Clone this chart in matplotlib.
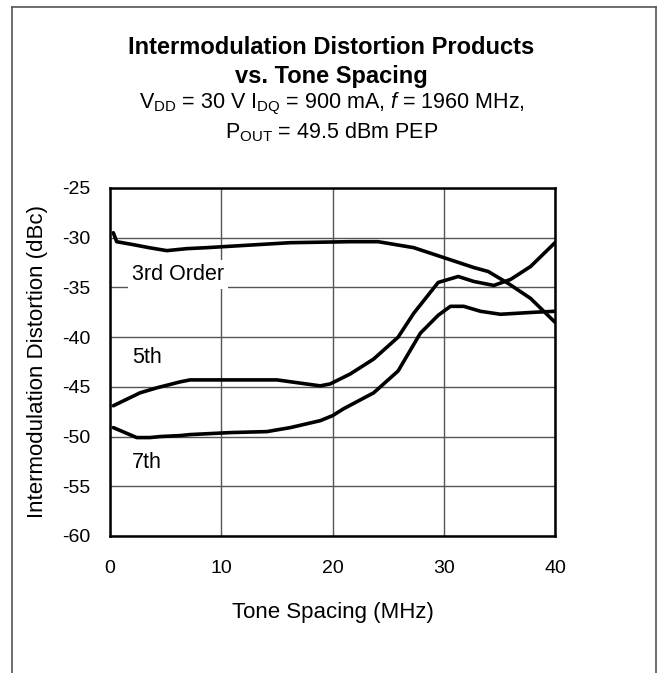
import matplotlib
matplotlib.use("Agg")
import matplotlib.pyplot as plt
from matplotlib.lines import Line2D

plt.rcParams["font.family"] = ["Liberation Sans", "DejaVu Sans"]
plt.rcParams["mathtext.fontset"] = "custom"
plt.rcParams["mathtext.rm"] = "Liberation Sans"
plt.rcParams["mathtext.it"] = "Liberation Sans:italic"
plt.rcParams["axes.unicode_minus"] = False

# ================= DATA =================
x_3rd = [0.3, 0.6, 2.1, 3.5, 5.1, 6.9, 8.7, 11.7, 16.2, 21.6, 24.1, 27.3,
         30.0, 32.7, 34.0, 35.8, 37.8, 40.0]
y_3rd = [-29.5, -30.4, -30.7, -31.0, -31.3, -31.1, -31.0, -30.8, -30.5, -30.4,
         -30.4, -31.0, -32.0, -33.0, -33.4, -34.6, -36.1, -38.5]

x_5th = [0.3, 2.7, 4.2, 6.3, 7.2, 15.0, 18.9, 19.8, 21.6, 23.7, 25.9, 27.3,
         29.5, 31.3, 32.7, 34.5, 36.0, 37.8, 40.0]
y_5th = [-46.9, -45.6, -45.1, -44.5, -44.3, -44.3, -44.9, -44.7, -43.7, -42.2,
         -40.0, -37.6, -34.5, -33.9, -34.4, -34.8, -34.2, -32.9, -30.5]

x_7th = [0.3, 2.4, 3.6, 4.5, 6.3, 7.2, 10.8, 14.1, 16.2, 18.9, 20.0, 21.0,
         23.7, 25.0, 25.9, 27.9, 29.5, 30.6, 31.8, 33.3, 35.1, 38.1, 40.0]
y_7th = [-49.1, -50.1, -50.1, -50.0, -49.9, -49.8, -49.6, -49.5, -49.1, -48.4,
         -47.9, -47.2, -45.6, -44.3, -43.4, -39.6, -37.8, -36.9, -36.9, -37.4,
         -37.7, -37.5, -37.4]

x_ticks = [0, 10, 20, 30, 40]
y_ticks = [-60, -55, -50, -45, -40, -35, -30, -25]

W, H = 663, 673
fig = plt.figure(figsize=(W / 100, H / 100), dpi=100)

# ================= FRAME =================
fx = lambda px: px / W
fy = lambda py: 1 - py / H
frame_kw = dict(transform=fig.transFigure, color="#555555", lw=1.2)
fig.add_artist(Line2D([fx(12), fx(12)], [fy(7), 0], **frame_kw))
fig.add_artist(Line2D([fx(12), fx(656)], [fy(7), fy(7)], **frame_kw))
fig.add_artist(Line2D([fx(656), fx(656)], [fy(7), 0], **frame_kw))

# ================= TITLES =================
fig.text(0.5, fy(47), "Intermodulation Distortion Products",
         ha="center", va="center", fontsize=17, fontweight="bold")
fig.text(0.5, fy(76), "vs. Tone Spacing",
         ha="center", va="center", fontsize=17, fontweight="bold")
fig.text(0.5, fy(104),
         r"V$_{\mathrm{DD}}$ = 30 V I$_{\mathrm{DQ}}$ = 900 mA, $f$ = 1960 MHz,",
         ha="center", va="center", fontsize=15.5)
fig.text(0.5, fy(132), r"P$_{\mathrm{OUT}}$ = 49.5 dBm PEP",
         ha="center", va="center", fontsize=15.5)

# ================= AXES =================
ax = fig.add_axes([fx(110), fy(536), (555 - 110) / W, (536 - 188) / H])
ax.set_xlim(0, 40)
ax.set_ylim(-60, -25)
ax.set_xticks(x_ticks)
ax.set_yticks(y_ticks)
ax.grid(True, color="#555555", lw=1.0)
ax.set_axisbelow(True)
for s in ax.spines.values():
    s.set_linewidth(1.8)
ax.tick_params(length=0, labelsize=14, pad=14)
ax.tick_params(axis="x", pad=17)

for xs, ys in [(x_3rd, y_3rd), (x_5th, y_5th), (x_7th, y_7th)]:
    ax.plot(xs, ys, color="black", lw=2.6, solid_capstyle="round")

box = dict(facecolor="white", edgecolor="none", pad=3)
ax.text(2.0, -33.7, "3rd Order", fontsize=15.5, va="center", bbox=box)
ax.text(2.0, -42.0, "5th", fontsize=15.5, va="center", bbox=box)
ax.text(2.0, -52.6, "7th", fontsize=15.5, va="center", bbox=box)

ax.set_xlabel("Tone Spacing (MHz)", fontsize=16, labelpad=18)
ax.set_ylabel("Intermodulation Distortion (dBc)", fontsize=16, labelpad=10)

fig.savefig("out.png", dpi=100)
